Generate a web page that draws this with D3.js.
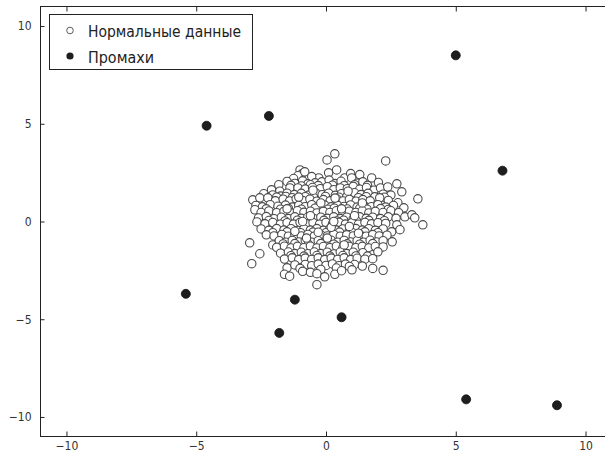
<!DOCTYPE html>
<html>
<head>
<meta charset="utf-8">
<script src="https://cdn.jsdelivr.net/npm/d3@7"></script>
<style>
  body { margin: 0; background: #fff; }
  text { font-family: "DejaVu Sans Condensed", "DejaVu Sans", sans-serif; font-stretch: condensed; }
</style>
</head>
<body>
<script>
const xTicks = [-10, -5, 0, 5, 10];
const yTicks = [-10, -5, 0, 5, 10];
const legendLabels = ["Нормальные данные", "Промахи"];

// outliers (filled)
const outliers = [
  [5.0, 8.5], [6.8, 2.6], [-4.6, 4.9], [-2.2, 5.4], [-5.4, -3.7],
  [-1.2, -4.0], [-1.8, -5.7], [0.6, -4.9], [5.4, -9.1], [8.9, -9.4]
];

// normal data (hollow)
const normal = [
  [0.04,3.15],[0.34,3.46],[2.3,3.1],
  [-1.0,2.64],[-0.93,2.44],[-1.08,2.34],[-0.82,2.54],[-0.28,2.23],[0.1,2.49],[0.41,2.64],[0.72,2.23],[-0.55,2.3],[1.3,2.4],[-1.25,2.2],[0.95,2.45],
  [-1.82,1.88],[-1.5,2.05],[-1.2,1.95],[-0.9,2.08],[-0.7,1.93],[-0.42,1.98],[-0.16,2.03],[0.12,2.12],[0.35,1.94],[0.58,2.06],[0.99,2.23],[1.2,1.96],[1.42,2.03],[1.76,2.23],[2.02,2.0],
  [-1.35,1.85],[-0.95,1.82],[-0.6,1.88],[-0.3,1.84],[0.25,1.86],[0.7,1.83],[1.1,1.88],[1.6,1.85],
  [-2.1,1.62],[-1.78,1.55],[-1.39,1.72],[-1.08,1.72],[-0.8,1.66],[-0.52,1.74],[-0.22,1.68],[0.05,1.78],[0.3,1.63],[0.55,1.72],[0.82,1.68],[1.05,1.8],[1.3,1.65],[1.56,1.74],[1.85,1.6],[2.1,1.72],[2.38,1.77],[2.73,1.93],
  [-2.4,1.42],[-2.05,1.36],[-1.75,1.3],[-1.5,1.45],[-1.22,1.38],[-0.95,1.44],[-0.66,1.35],[-0.4,1.46],[-0.15,1.37],[0.1,1.45],[0.36,1.34],[0.6,1.42],[0.86,1.36],[1.1,1.47],[1.35,1.38],[1.62,1.44],[1.88,1.26],[2.2,1.4],[2.5,1.35],[2.92,1.52],
  [-1.9,1.25],[-1.55,1.28],[-1.3,1.22],[-0.8,1.27],[-0.48,1.23],[-0.02,1.28],[0.5,1.24],[0.8,1.27],[1.25,1.22],[1.55,1.27],[2.25,1.24],
  [-2.82,1.11],[-2.55,1.21],[-2.24,1.21],[-1.95,1.06],[-1.65,1.14],[-1.4,1.05],[-1.15,1.16],[-0.9,1.08],[-0.62,1.14],[-0.35,1.04],[-0.1,1.12],[0.16,1.06],[0.42,1.15],[0.66,1.05],[0.9,1.13],[1.16,1.04],[1.42,1.12],[1.7,1.06],[2.07,1.21],[2.4,1.08],[2.77,0.96],[3.54,1.16],
  [-2.7,0.82],[-2.45,0.75],[-2.15,0.86],[-1.85,0.78],[-1.56,0.84],[-1.3,0.74],[-1.05,0.82],[-0.8,0.76],[-0.55,0.86],[-0.3,0.78],[-0.05,0.84],[0.2,0.75],[0.45,0.83],[0.7,0.77],[0.95,0.85],[1.2,0.74],[1.46,0.82],[1.75,0.76],[2.0,0.86],[2.3,0.74],[2.6,0.82],[3.0,0.7],
  [-2.3,0.65],[-1.75,0.63],[-1.45,0.67],[-0.95,0.63],[-0.42,0.68],[0.08,0.63],[0.32,0.68],[0.82,0.64],[1.3,0.67],[1.58,0.63],[2.1,0.66],[2.4,0.62],
  [-2.74,0.6],[-2.5,0.46],[-2.2,0.54],[-1.9,0.45],[-1.62,0.52],[-1.35,0.44],[-1.1,0.55],[-0.85,0.47],[-0.6,0.53],[-0.35,0.44],[-0.1,0.52],[0.15,0.46],[0.4,0.55],[0.65,0.45],[0.9,0.53],[1.15,0.46],[1.4,0.55],[1.65,0.44],[1.9,0.52],[2.2,0.46],[2.5,0.55],[2.8,0.45],
  [-2.6,0.18],[-2.3,0.25],[-2.0,0.14],[-1.72,0.22],[-1.45,0.15],[-1.2,0.24],[-0.95,0.16],[-0.7,0.23],[-0.45,0.14],[-0.2,0.22],[0.05,0.16],[0.3,0.24],[0.55,0.15],[0.8,0.22],[1.05,0.14],[1.3,0.24],[1.55,0.16],[1.8,0.22],[2.1,0.15],[2.4,0.24],[2.7,0.16],[3.04,0.24],[3.31,0.34],[3.42,0.19],
  [-2.2,0.05],[-1.58,0.03],[-1.1,0.07],[-0.58,0.02],[-0.08,0.06],[0.42,0.03],[0.68,0.07],[1.18,0.02],[1.65,0.06],[2.25,0.04],
  [-2.66,-0.02],[-2.35,-0.12],[-2.05,-0.05],[-1.76,-0.14],[-1.5,-0.06],[-1.25,-0.13],[-1.0,-0.04],[-0.75,-0.12],[-0.5,-0.06],[-0.25,-0.14],[0.0,-0.05],[0.25,-0.12],[0.5,-0.04],[0.75,-0.13],[1.0,-0.06],[1.25,-0.14],[1.5,-0.05],[1.75,-0.12],[2.0,-0.06],[2.3,-0.1],[2.73,-0.17],[3.73,-0.17],
  [-2.5,-0.38],[-2.2,-0.45],[-1.9,-0.36],[-1.62,-0.44],[-1.35,-0.37],[-1.1,-0.46],[-0.85,-0.38],[-0.6,-0.44],[-0.35,-0.36],[-0.1,-0.45],[0.15,-0.37],[0.4,-0.44],[0.65,-0.38],[0.9,-0.46],[1.15,-0.36],[1.4,-0.44],[1.65,-0.37],[1.9,-0.45],[2.2,-0.38],[2.53,-0.53],[2.85,-0.42],
  [-2.05,-0.57],[-1.5,-0.53],[-0.98,-0.57],[-0.5,-0.54],[0.0,-0.57],[0.52,-0.54],[1.0,-0.56],[1.5,-0.53],[2.0,-0.57],
  [-2.3,-0.68],[-2.0,-0.74],[-1.7,-0.66],[-1.45,-0.75],[-1.2,-0.67],[-0.95,-0.74],[-0.7,-0.66],[-0.45,-0.75],[-0.2,-0.68],[0.05,-0.74],[0.3,-0.66],[0.55,-0.75],[0.8,-0.68],[1.05,-0.74],[1.3,-0.66],[1.55,-0.75],[1.8,-0.67],[2.05,-0.74],[2.35,-0.7],
  [-2.94,-1.09],[-2.05,-1.2],[-1.8,-0.98],[-1.55,-1.06],[-1.3,-0.97],[-1.05,-1.05],[-0.8,-0.96],[-0.55,-1.06],[-0.3,-0.98],[-0.05,-1.04],[0.2,-0.96],[0.45,-1.06],[0.7,-0.97],[0.95,-1.05],[1.2,-0.98],[1.45,-1.06],[1.7,-0.96],[1.95,-1.05],[2.2,-0.98],[2.55,-1.04],
  [-1.65,-1.15],[-1.2,-1.13],[-0.68,-1.17],[-0.2,-1.13],[0.3,-1.16],[0.82,-1.14],[1.3,-1.16],[1.8,-1.13],
  [-1.9,-1.32],[-1.6,-1.26],[-1.35,-1.35],[-1.1,-1.27],[-0.85,-1.34],[-0.6,-1.26],[-0.35,-1.35],[-0.1,-1.28],[0.15,-1.34],[0.4,-1.26],[0.65,-1.35],[0.9,-1.27],[1.15,-1.34],[1.4,-1.27],[1.65,-1.35],[1.9,-1.28],[2.2,-1.3],
  [-2.55,-1.65],[-1.75,-1.62],[-1.45,-1.56],[-1.2,-1.64],[-0.95,-1.57],[-0.7,-1.65],[-0.45,-1.56],[-0.2,-1.64],[0.05,-1.57],[0.3,-1.66],[0.55,-1.56],[0.8,-1.64],[1.05,-1.57],[1.42,-1.6],[1.8,-1.7],[2.0,-1.55],
  [-1.35,-1.75],[-0.85,-1.77],[-0.35,-1.74],[0.15,-1.77],[0.65,-1.74],[1.15,-1.76],[1.6,-1.77],
  [-1.6,-1.92],[-1.3,-1.86],[-1.05,-1.95],[-0.8,-1.87],[-0.55,-1.94],[-0.3,-1.86],[-0.05,-1.95],[0.2,-1.87],[0.45,-1.94],[0.7,-1.86],[0.95,-1.95],[1.2,-1.88],[1.5,-1.93],[1.8,-1.9],
  [-2.86,-2.16],[-1.5,-2.37],[-1.2,-2.22],[-0.8,-2.2],[-0.55,-2.26],[-0.3,-2.18],[0.0,-2.25],[0.25,-2.17],[0.5,-2.26],[0.75,-2.18],[1.1,-2.2],[1.4,-2.28],[1.8,-2.4],[2.2,-2.5],
  [-1.0,-2.4],[-0.2,-2.45],[0.4,-2.38],[0.9,-2.3],
  [-1.6,-2.7],[-1.4,-2.8],[-0.9,-2.55],[-0.6,-2.6],[-0.35,-2.67],[-0.05,-2.83],[0.34,-2.7],[0.6,-2.52],[1.0,-2.47],
  [-0.35,-3.23],
  [-0.6,0.3],[0.2,-0.3],[0.6,0.65],[-0.3,-0.55],[0.9,-0.25],[-0.9,0.0],[0.35,1.2],[-0.2,0.95],[1.1,0.3],[-1.2,-0.5],
  [0.05,-0.85],[0.7,-1.2],[-0.5,1.6],[1.4,0.95],[-1.5,0.65],[0.3,0.0],[-0.75,-0.85],[1.25,-0.6],[-1.05,1.25],[0.85,1.55]
];

const w = 605, h = 456;
const x = d3.scaleLinear().domain([-11, 11]).range([40.5, 611.5]);
const y = d3.scaleLinear().domain([-11, 11]).range([436.5, 6.5]);

const svg = d3.select("body").append("svg").attr("width", w).attr("height", h);

// data
svg.append("g").attr("id", "normal")
  .selectAll("circle")
  .data(normal)
  .enter().append("circle")
  .attr("cx", (d) => x(d[0]))
  .attr("cy", (d) => y(d[1]))
  .attr("r", 4.2)
  .attr("fill", "#fff")
  .attr("stroke", "#4a4a4a")
  .attr("stroke-width", 1.1);

svg.append("g").attr("id", "outliers")
  .selectAll("circle")
  .data(outliers)
  .enter().append("circle")
  .attr("cx", (d) => x(d[0]))
  .attr("cy", (d) => y(d[1]))
  .attr("r", 4.5)
  .attr("fill", "#1e1e1e")
  .attr("stroke", "#111")
  .attr("stroke-width", 0.8);

// axes, ticks inward on all sides
const styleAxis = function(g) {
  g.select(".domain").remove();
  g.selectAll(".tick line").attr("stroke", "#222");
  g.selectAll(".tick text").attr("fill", "#333").attr("font-size", "12px")
    .attr("font-family", "'DejaVu Sans Condensed', 'DejaVu Sans', sans-serif");
};

svg.append("g").attr("transform", "translate(0," + y(-11) + ")")
  .call(d3.axisBottom(x).tickValues(xTicks).tickSize(-5).tickSizeOuter(0).tickPadding(5))
  .call(styleAxis);
svg.append("g").attr("transform", "translate(0," + y(11) + ")")
  .call(d3.axisTop(x).tickValues(xTicks).tickSize(-5).tickSizeOuter(0).tickFormat(""))
  .call(styleAxis);
svg.append("g").attr("transform", "translate(" + x(-11) + ",0)")
  .call(d3.axisLeft(y).tickValues(yTicks).tickSize(-4).tickSizeOuter(0).tickPadding(9))
  .call(styleAxis);
svg.append("g").attr("transform", "translate(" + x(11) + ",0)")
  .call(d3.axisRight(y).tickValues(yTicks).tickSize(-4).tickSizeOuter(0).tickFormat(""))
  .call(styleAxis);

svg.append("rect")
  .attr("x", x(-11)).attr("y", y(11))
  .attr("width", x(11) - x(-11)).attr("height", y(-11) - y(11))
  .attr("fill", "none").attr("stroke", "#222").attr("stroke-width", 1);

// legend
const legend = svg.append("g").attr("id", "legend");
legend.append("rect")
  .attr("x", 49.5).attr("y", 14.5).attr("width", 203).attr("height", 55)
  .attr("fill", "#fff").attr("stroke", "#222").attr("stroke-width", 1);
legend.append("circle").attr("cx", 70).attr("cy", 30.5).attr("r", 3.3)
  .attr("fill", "#fff").attr("stroke", "#5a5a5a").attr("stroke-width", 1);
legend.append("circle").attr("cx", 70).attr("cy", 56).attr("r", 3.6)
  .attr("fill", "#1e1e1e");
legend.selectAll("text")
  .data(legendLabels)
  .enter().append("text")
  .attr("x", 88)
  .attr("y", (d, i) => 37 + i * 25.5)
  .attr("font-size", "16.5px")
  .attr("fill", "#222")
  .attr("textLength", (d, i) => i === 0 ? 153 : 66)
  .attr("lengthAdjust", "spacingAndGlyphs")
  .text((d) => d);
</script>
</body>
</html>
